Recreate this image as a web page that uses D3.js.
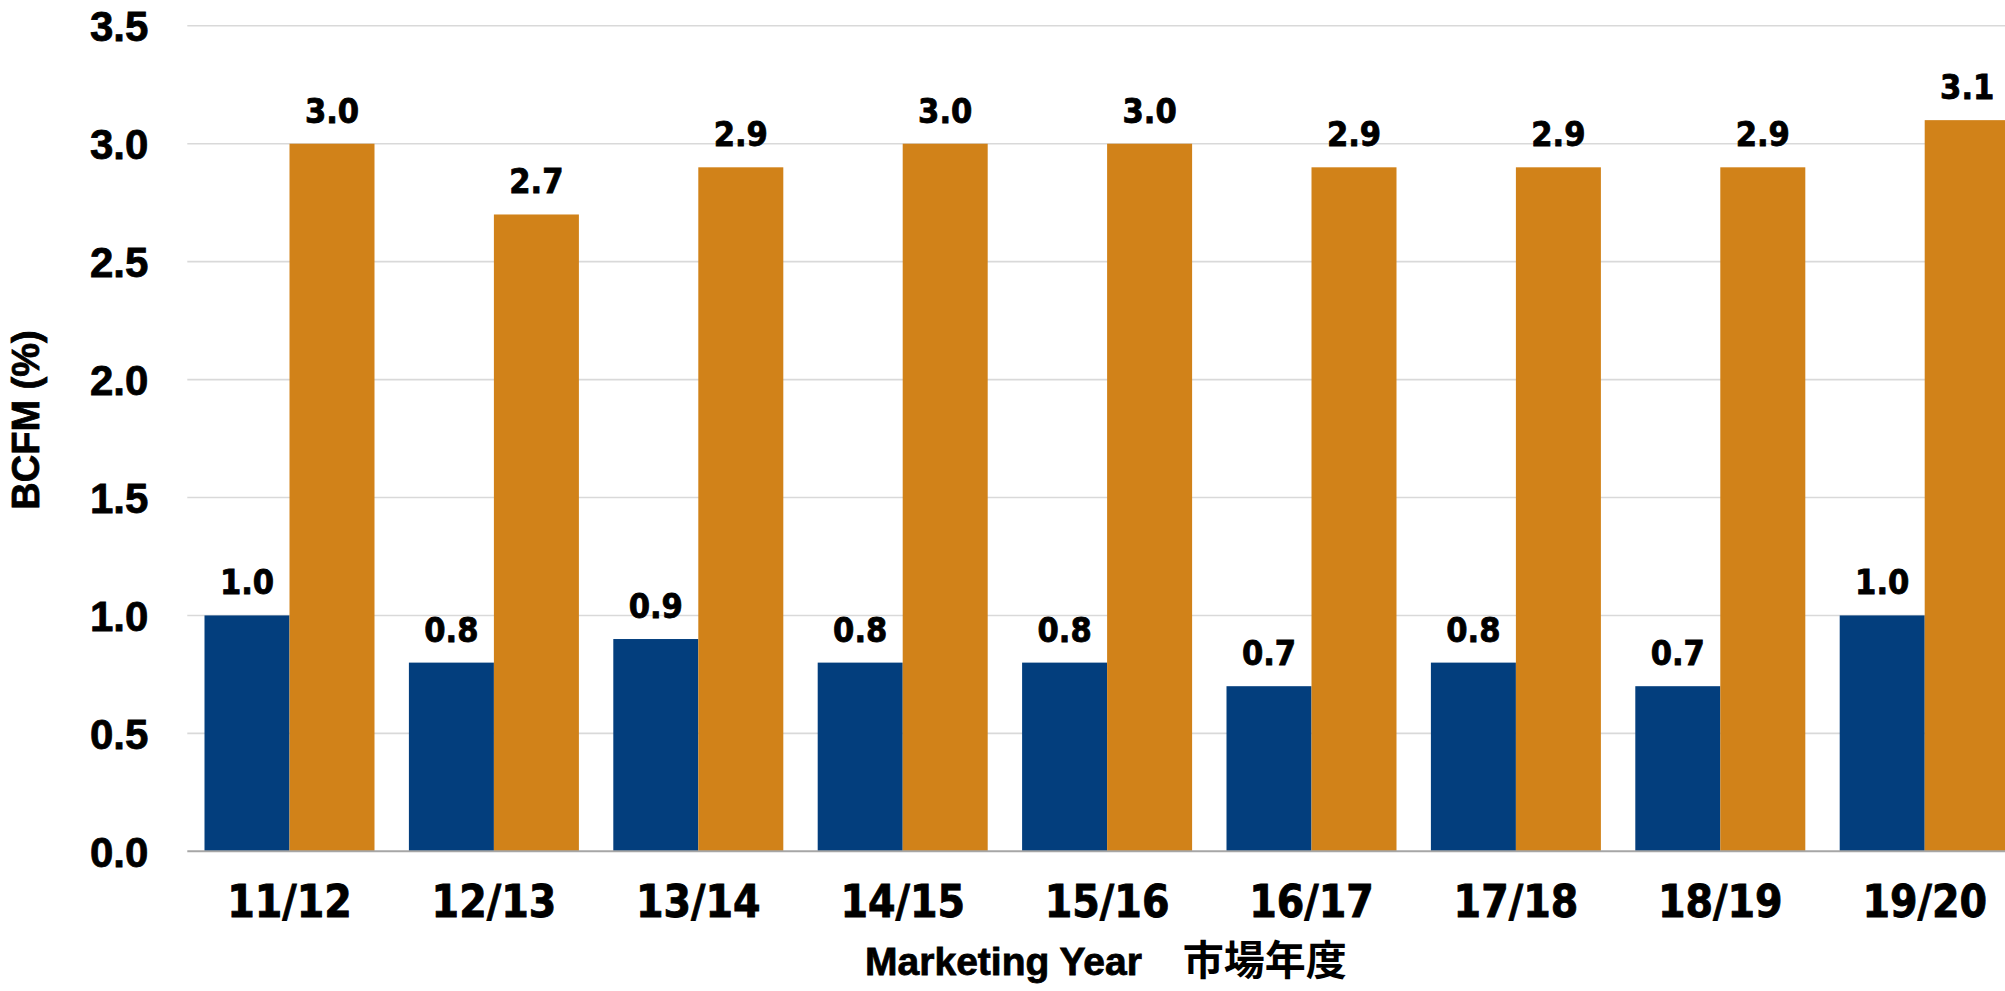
<!DOCTYPE html>
<html>
<head>
<meta charset="utf-8">
<script src="https://cdn.jsdelivr.net/npm/d3@7"></script>
<style>
html,body{margin:0;padding:0;background:#fff;}
svg{display:block;}
</style>
</head>
<body>
<svg id="chart" width="2005" height="991"></svg>
<script>
const categories = ["11/12","12/13","13/14","14/15","15/16","16/17","17/18","18/19","19/20"];
const seriesNames = ["A","B"];
const seriesA = [1.0,0.8,0.9,0.8,0.8,0.7,0.8,0.7,1.0];
const seriesB = [3.0,2.7,2.9,3.0,3.0,2.9,2.9,2.9,3.1];
const yTicks = [0,0.5,1.0,1.5,2.0,2.5,3.0,3.5];
const colors = ["#033E7D","#D18219"];
const yTitle = "BCFM (%)";
const xTitleEn = "Marketing Year";
const xTitleJa = "\u3000市場年度";

(function(){
const svg = d3.select("#chart");
const W = 2005, H = 991;
const mLeft = 187.3, mBottom = 851.3, mTop = 25.8;
const step = 204.4, gap = 34.4;

const x0 = d3.scaleBand().domain(categories)
  .range([mLeft, mLeft + categories.length*step])
  .paddingInner(gap/step).paddingOuter(gap/step/2);
const x1 = d3.scaleBand().domain(seriesNames).range([0, x0.bandwidth()]).padding(0);
const y = d3.scaleLinear().domain([0,3.5]).range([mBottom, mTop]);

// gridlines
svg.append("g").selectAll("line").data(yTicks.filter(d=>d>0)).join("line")
  .attr("x1", mLeft).attr("x2", W)
  .attr("y1", d=>y(d)).attr("y2", d=>y(d))
  .attr("stroke","#d9d9d9").attr("stroke-width",1.6);

// y axis labels
const yAxis = d3.axisLeft(y).tickValues(yTicks).tickSize(0).tickPadding(39)
  .tickFormat(d3.format(".1f"));
const gy = svg.append("g").attr("transform",`translate(${mLeft},0)`).call(yAxis);
gy.select(".domain").remove();
gy.selectAll("text").attr("font-family","'Liberation Sans', Arial, sans-serif")
  .attr("font-weight","bold").attr("font-size",42).attr("fill","#000")
  .attr("stroke","#000").attr("stroke-width",0.8).attr("dy","0.36em");

// bars
const data = categories.map((c,i)=>({cat:c, vals:[{s:"A",v:seriesA[i]},{s:"B",v:seriesB[i]}]}));
const groups = svg.append("g").selectAll("g").data(data).join("g")
  .attr("transform", d=>`translate(${x0(d.cat)},0)`);
groups.selectAll("rect").data(d=>d.vals).join("rect")
  .attr("x", d=>x1(d.s)).attr("width", x1.bandwidth())
  .attr("y", d=>y(d.v)).attr("height", d=>mBottom - y(d.v))
  .attr("fill", (d,i)=>colors[i]);
groups.selectAll("text").data(d=>d.vals).join("text")
  .attr("x", d=>x1(d.s)+x1.bandwidth()/2).attr("y", d=>y(d.v)-21)
  .attr("text-anchor","middle")
  .attr("font-family","'DejaVu Sans Condensed','DejaVu Sans',sans-serif")
  .attr("font-stretch","condensed")
  .attr("font-weight","bold").attr("font-size",34).attr("fill","#000")
  .attr("stroke","#000").attr("stroke-width",0.8)
  .text(d=>d3.format(".1f")(d.v));

// baseline
svg.append("line").attr("x1", mLeft).attr("x2", W).attr("y1", mBottom).attr("y2", mBottom)
  .attr("stroke","#a6a6a6").attr("stroke-width",2);

// x axis labels
const xAxis = d3.axisBottom(x0).tickSize(0).tickPadding(0);
const gx = svg.append("g").attr("transform",`translate(0,${mBottom})`).call(xAxis);
gx.select(".domain").remove();
gx.selectAll("text").attr("y", 66).attr("dy", 0)
  .attr("font-family","'DejaVu Sans Condensed','DejaVu Sans',sans-serif")
  .attr("font-stretch","condensed")
  .attr("font-weight","bold").attr("font-size",44).attr("fill","#000")
  .attr("stroke","#000").attr("stroke-width",0.8);

// y title
svg.append("text").attr("transform","translate(39,420) rotate(-90)")
  .attr("text-anchor","middle")
  .attr("font-family","'Liberation Sans', Arial, sans-serif")
  .attr("font-weight","bold").attr("font-size",38).attr("fill","#000")
  .attr("stroke","#000").attr("stroke-width",0.8)
  .text(yTitle);

// x title
const xt = svg.append("text").attr("x",1106).attr("y",975).attr("text-anchor","middle")
  .attr("font-family","'Liberation Sans','Noto Sans CJK JP', sans-serif")
  .attr("font-weight","bold").attr("fill","#000");
xt.append("tspan").attr("font-size",39).attr("stroke","#000").attr("stroke-width",0.8).text(xTitleEn);
xt.append("tspan").attr("font-size",41).attr("font-family","'Noto Sans CJK JP', sans-serif")
  .attr("font-weight","bold").text(xTitleJa);
})();
</script>
</body>
</html>
